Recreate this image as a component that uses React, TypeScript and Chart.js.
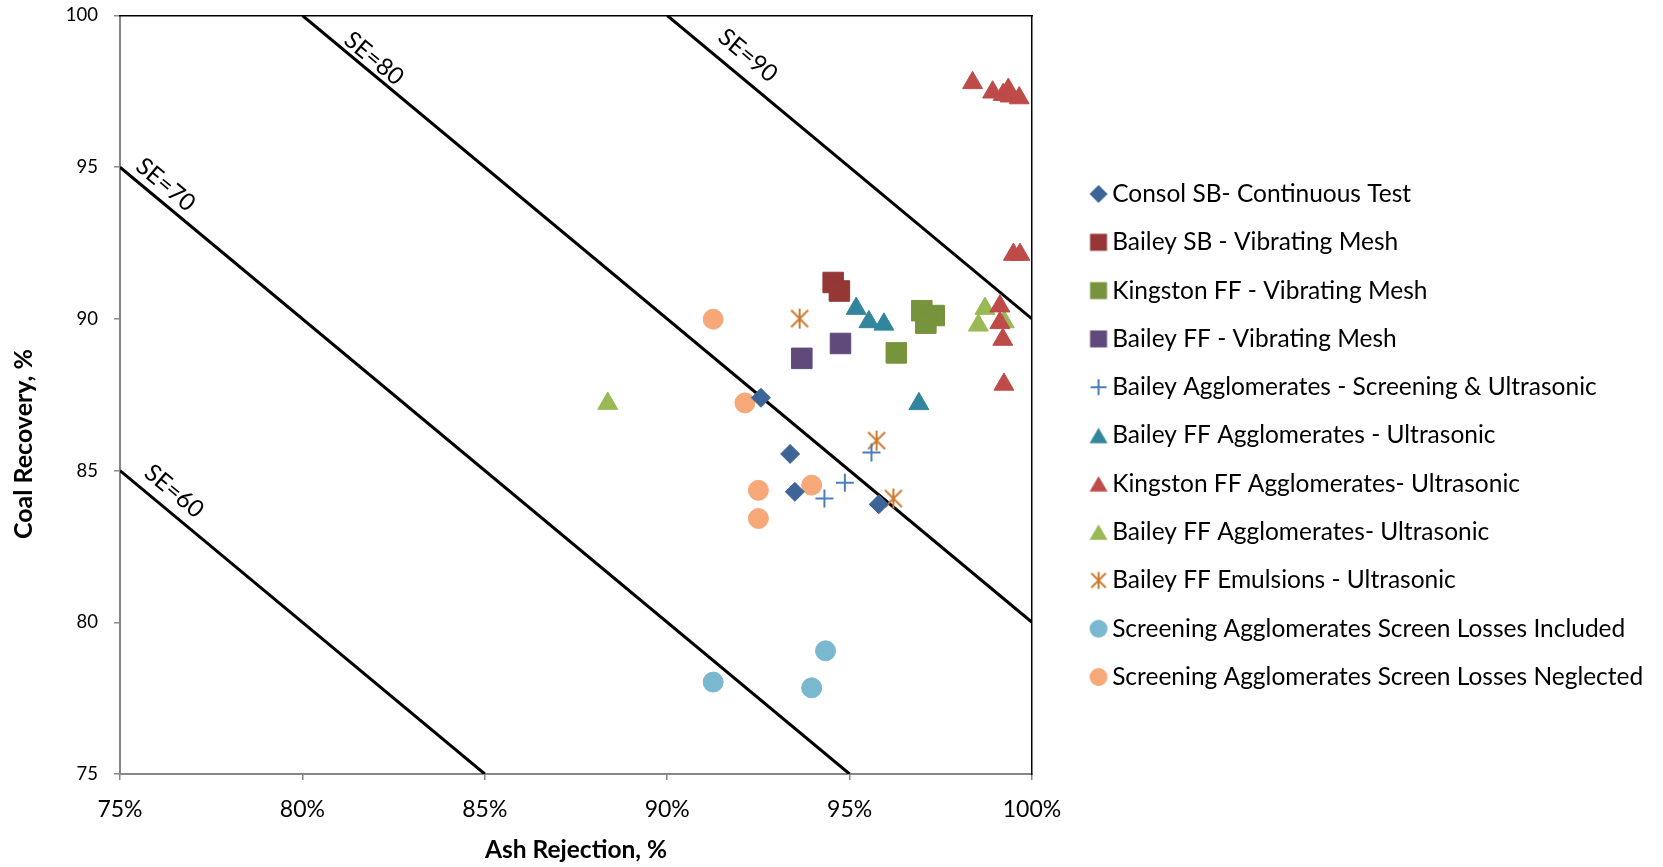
import React, { useEffect, useRef } from 'react';
import { Chart, registerables } from 'chart.js';

Chart.register(...registerables);

// ---------- data ----------
const xTickValues = [75, 80, 85, 90, 95, 100];
const yTickValues = [75, 80, 85, 90, 95, 100];
const xTitle = 'Ash Rejection, %';
const yTitle = 'Coal Recovery, %';

const seriesLabels = [
  'Consol SB- Continuous Test',
  'Bailey SB - Vibrating Mesh',
  'Kingston FF - Vibrating Mesh',
  'Bailey FF - Vibrating Mesh',
  'Bailey Agglomerates - Screening & Ultrasonic',
  'Bailey FF Agglomerates - Ultrasonic',
  'Kingston FF Agglomerates- Ultrasonic',
  'Bailey FF Agglomerates- Ultrasonic',
  'Bailey FF Emulsions - Ultrasonic',
  'Screening Agglomerates Screen Losses Included',
  'Screening Agglomerates Screen Losses Neglected',
];

const consolAsh = [92.57, 93.37, 93.5, 95.8];
const consolRec = [87.4, 85.55, 84.3, 83.89];
const baileySBAsh = [94.55, 94.72];
const baileySBRec = [91.2, 90.92];
const kingstonVMAsh = [96.98, 97.32, 97.09, 96.28];
const kingstonVMRec = [90.27, 90.11, 89.86, 88.88];
const baileyFFVMAsh = [93.69, 94.75];
const baileyFFVMRec = [88.7, 89.19];
const baileyAggAsh = [95.6, 94.87, 94.31];
const baileyAggRec = [85.6, 84.6, 84.08];
const baileyFFAggAsh = [95.18, 95.53, 95.94, 96.9];
const baileyFFAggRec = [90.34, 89.9, 89.82, 87.2];
const kingstonAggAsh = [98.37, 98.92, 99.21, 99.35, 99.4, 99.65, 99.49, 99.67, 99.12, 99.12, 99.2, 99.23];
const kingstonAggRec = [97.78, 97.47, 97.39, 97.56, 97.34, 97.28, 92.12, 92.12, 90.42, 89.87, 89.32, 87.84];
const baileyFFAgg2Ash = [98.71, 98.53, 99.24, 88.37];
const baileyFFAgg2Rec = [90.34, 89.79, 89.9, 87.21];
const emulsionAsh = [93.63, 95.74, 96.2];
const emulsionRec = [90.01, 85.99, 84.08];
const inclAsh = [91.26, 93.96, 94.34];
const inclRec = [78.03, 77.84, 79.06];
const neglAsh = [91.26, 92.13, 92.5, 92.5, 93.96];
const neglRec = [89.99, 87.23, 84.35, 83.42, 84.52];

const seriesAsh = [consolAsh, baileySBAsh, kingstonVMAsh, baileyFFVMAsh, baileyAggAsh, baileyFFAggAsh, kingstonAggAsh, baileyFFAgg2Ash, emulsionAsh, inclAsh, neglAsh];
const seriesRec = [consolRec, baileySBRec, kingstonVMRec, baileyFFVMRec, baileyAggRec, baileyFFAggRec, kingstonAggRec, baileyFFAgg2Rec, emulsionRec, inclRec, neglRec];

const seriesColors = ['#3D6497', '#953735', '#77933C', '#604A7B', '#4A7EBB', '#31859C', '#BE4B48', '#98B954', '#CC7A30', '#79B8CE', '#F7A878'];
const seriesMarkers = ['diamond', 'square', 'square', 'square', 'plus', 'triangle', 'triangle', 'triangle', 'asterisk', 'circle', 'circle'];

// separation efficiency lines
const seLabels = ['SE=60', 'SE=70', 'SE=80', 'SE=90'];
const seLineAsh = [[75, 85], [75, 95], [80, 100], [90, 100]];
const seLineRec = [[85, 75], [95, 75], [100, 80], [100, 90]];
const seLabelAsh = [76.48, 76.25, 81.96, 92.21];
const seLabelRec = [84.32, 94.42, 98.58, 98.68];

// ---------- styling helpers ----------
const FONT = "Lato, 'Open Sans', sans-serif";
const LEGEND_FS = 24.5;
const LEGEND_PAD = 23.8;
const LEGEND_BOX = 2.7;
const RIGHT_GAP = 41.4;
const PLOT_RIGHT = 1032;
const CANVAS_W = 1663;
const CANVAS_H = 867;

function makeMarker(kind: string, color: string, size: number): HTMLCanvasElement {
  const base = Math.ceil(size) + 6;
  const dim = base + (base % 2);
  const c = document.createElement('canvas');
  c.width = dim;
  c.height = dim;
  const g = c.getContext('2d')!;
  const m = dim / 2;
  const h = size / 2;
  g.fillStyle = color;
  g.strokeStyle = color;
  g.lineWidth = 2;
  g.beginPath();
  if (kind === 'diamond') {
    g.moveTo(m, m - h); g.lineTo(m + h, m); g.lineTo(m, m + h); g.lineTo(m - h, m); g.closePath(); g.fill();
  } else if (kind === 'square') {
    g.rect(m - h, m - h, size, size); g.fill();
  } else if (kind === 'triangle') {
    const th = size * 0.866;
    g.moveTo(m, m - th / 2); g.lineTo(m + h, m + th / 2); g.lineTo(m - h, m + th / 2); g.closePath(); g.fill();
  } else if (kind === 'circle') {
    g.arc(m, m, h, 0, Math.PI * 2); g.fill();
  } else if (kind === 'plus') {
    g.moveTo(m - h, m); g.lineTo(m + h, m); g.moveTo(m, m - h); g.lineTo(m, m + h); g.stroke();
  } else if (kind === 'asterisk') {
    const d = h * 0.85;
    g.moveTo(m - d, m - d); g.lineTo(m + d, m + d);
    g.moveTo(m + d, m - d); g.lineTo(m - d, m + d);
    g.moveTo(m, m - h); g.lineTo(m, m + h);
    g.stroke();
  }
  return c;
}

const legendSize: Record<string, number> = { diamond: 18, square: 17, triangle: 18, circle: 18, plus: 16, asterisk: 17 };

const frameAndLabelsPlugin = {
  id: 'frameAndLabels',
  afterDatasetsDraw(chart: any) {
    const { ctx, chartArea, scales } = chart;
    const xs = scales.x;
    const ys = scales.y;
    ctx.save();
    ctx.fillStyle = '#000';
    ctx.font = `24px ${FONT}`;
    ctx.textAlign = 'center';
    ctx.textBaseline = 'middle';
    seLabels.forEach((txt, i) => {
      const x1 = xs.getPixelForValue(seLineAsh[i][0]);
      const y1 = ys.getPixelForValue(seLineRec[i][0]);
      const x2 = xs.getPixelForValue(seLineAsh[i][1]);
      const y2 = ys.getPixelForValue(seLineRec[i][1]);
      const ang = Math.atan2(y2 - y1, x2 - x1);
      ctx.save();
      ctx.translate(xs.getPixelForValue(seLabelAsh[i]), ys.getPixelForValue(seLabelRec[i]));
      ctx.rotate(ang);
      ctx.fillText(txt, 0, 0);
      ctx.restore();
    });
    ctx.restore();

    ctx.save();
    ctx.fillStyle = '#000';
    ctx.font = `bold 25px ${FONT}`;
    ctx.textAlign = 'center';
    ctx.textBaseline = 'middle';
    ctx.translate(24, chartArea.top + (chartArea.bottom - chartArea.top) * 0.565);
    ctx.rotate(-Math.PI / 2);
    ctx.fillText(yTitle, 0, 0);
    ctx.restore();
  },
};

export default function App() {
  const ref = useRef<HTMLCanvasElement | null>(null);

  useEffect(() => {
    if (!ref.current) return;
    Chart.defaults.font.family = FONT;

    // natural legend width, so the plot area ends where the reference's does
    const mctx = document.createElement('canvas').getContext('2d')!;
    mctx.font = `normal ${LEGEND_FS}px ${FONT}`;
    const textW = Math.max(...seriesLabels.map((s) => mctx.measureText(s).width));
    const legendW = LEGEND_PAD + LEGEND_BOX + LEGEND_FS / 2 + textW + 10;
    const padRight = Math.max(0, CANVAS_W - PLOT_RIGHT - RIGHT_GAP - legendW);

    const legendMarkers = seriesMarkers.map((k, i) => makeMarker(k, seriesColors[i], legendSize[k]));
    const asteriskPlot = makeMarker('asterisk', seriesColors[8], 20);

    const pointStyleFor = (k: string): any => {
      if (k === 'diamond') return 'rectRot';
      if (k === 'square') return 'rect';
      if (k === 'plus') return 'cross';
      if (k === 'asterisk') return asteriskPlot;
      return k;
    };
    const radiusFor = (k: string) => {
      if (k === 'diamond') return 9.5;
      if (k === 'square') return 14.5;
      if (k === 'triangle') return 11.5;
      if (k === 'circle') return 10;
      if (k === 'plus') return 9;
      return 10;
    };

    const pointSets = seriesLabels.map((label, i) => ({
      type: 'scatter' as const,
      label,
      data: seriesAsh[i].map((a, j) => ({ x: a, y: seriesRec[i][j] })),
      pointStyle: pointStyleFor(seriesMarkers[i]),
      pointRadius: radiusFor(seriesMarkers[i]),
      pointHoverRadius: radiusFor(seriesMarkers[i]),
      backgroundColor: seriesColors[i],
      borderColor: seriesColors[i],
      borderWidth: seriesMarkers[i] === 'plus' ? 2 : 1,
      showLine: false,
      order: 0,
    }));

    const lineSets = seLabels.map((label, i) => ({
      type: 'line' as const,
      label,
      data: seLineAsh[i].map((a, j) => ({ x: a, y: seLineRec[i][j] })),
      borderColor: '#000',
      borderWidth: 3,
      pointRadius: 0,
      pointHoverRadius: 0,
      fill: false,
      tension: 0,
      order: 1,
    }));

    const chart = new Chart(ref.current, {
      type: 'scatter',
      data: { datasets: [...pointSets, ...lineSets] as any },
      options: {
        responsive: false,
        animation: false,
        devicePixelRatio: 1,
        layout: { padding: { left: 0, top: 4, bottom: 0, right: padRight } },
        plugins: {
          tooltip: { enabled: false },
          legend: {
            position: 'right',
            align: 'center',
            maxWidth: legendW + 2,
            labels: {
              usePointStyle: true,
              boxWidth: LEGEND_BOX,
              boxHeight: LEGEND_BOX,
              padding: LEGEND_PAD,
              color: '#000',
              font: { size: LEGEND_FS, family: FONT },
              generateLabels: (c: any) => {
                const items = (Chart.defaults.plugins.legend.labels as any).generateLabels(c);
                return items
                  .filter((it: any) => it.datasetIndex < seriesLabels.length)
                  .map((it: any) => ({ ...it, pointStyle: legendMarkers[it.datasetIndex], fontColor: '#000' }));
              },
            },
          },
        },
        scales: {
          x: {
            type: 'linear',
            position: 'bottom',
            min: 75,
            max: 100,
            afterBuildTicks: (s: any) => { s.ticks = xTickValues.map((v) => ({ value: v })); },
            afterFit: (s: any) => { s.height = 93; },
            ticks: { callback: (v: any) => `${v}%`, font: { size: 23 }, color: '#000', padding: 16, maxRotation: 0, autoSkip: false },
            grid: { display: true, drawOnChartArea: false, drawTicks: true, tickLength: 6, color: '#868686', lineWidth: 1.5 },
            border: { display: true, color: '#868686', width: 2 },
            title: { display: true, text: xTitle, font: { size: 24.5, weight: 'bold' }, color: '#000', padding: { top: 0, bottom: 2 } },
          },
          y: {
            type: 'linear',
            position: 'left',
            min: 75,
            max: 100,
            afterBuildTicks: (s: any) => { s.ticks = yTickValues.map((v) => ({ value: v })); },
            afterFit: (s: any) => { s.width = 120; s.paddingTop = 8; s.paddingBottom = 8; },
            ticks: { font: { size: 18.5 }, color: '#000', padding: 16, autoSkip: false },
            grid: { display: true, drawOnChartArea: false, drawTicks: true, tickLength: 6, color: '#868686', lineWidth: 1.5 },
            border: { display: true, color: '#868686', width: 2 },
          },
          xTop: {
            type: 'linear',
            position: 'top',
            min: 75,
            max: 100,
            afterFit: (s: any) => { s.height = 11; },
            ticks: { display: false },
            grid: { display: false },
            border: { display: true, color: '#000', width: 1.5 },
          },
          yRight: {
            type: 'linear',
            position: 'right',
            min: 75,
            max: 100,
            afterFit: (s: any) => { s.width = RIGHT_GAP; },
            ticks: { display: false },
            grid: { display: false },
            border: { display: true, color: '#000', width: 1.5 },
          },
        },
      } as any,
      plugins: [frameAndLabelsPlugin],
    });

    return () => chart.destroy();
  }, []);

  return (
    <div style={{ position: 'fixed', left: 0, top: 0, width: CANVAS_W, height: CANVAS_H, background: '#fff' }}>
      <canvas ref={ref} width={CANVAS_W} height={CANVAS_H} style={{ display: 'block' }} />
    </div>
  );
}
